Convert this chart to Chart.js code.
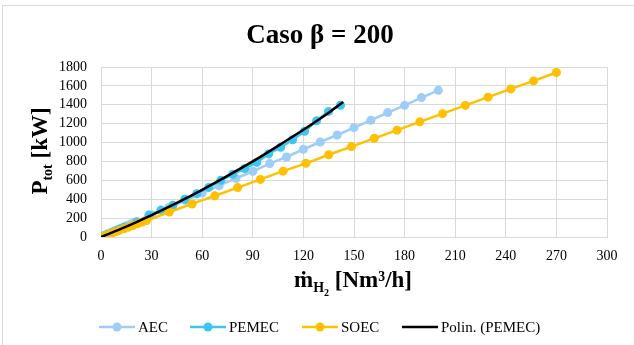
<!DOCTYPE html>
<html>
<head>
<meta charset="utf-8">
<script src="https://cdn.jsdelivr.net/npm/chart.js@4"></script>
<style>
  html, body { margin: 0; padding: 0; background: #fff; }
  #wrap { width: 634px; height: 345px; position: relative; }
</style>
</head>
<body>
<div id="wrap"><canvas id="chart" width="634" height="345"></canvas></div>
<script>
// series
const aecX = [0, 2, 4, 6, 8, 10, 12, 14, 16, 18, 20, 30, 40, 50, 60, 70, 80, 90, 100, 110, 120, 130, 140, 150, 160, 170, 180, 190, 200];
const aecY = [0, 16, 31, 47, 62, 78, 93, 109, 124, 140, 155, 233, 310, 388, 465, 543, 620, 696, 777, 847, 929, 1006, 1080, 1158, 1236, 1317, 1394, 1476, 1553];

const pemX = [0, 1.42, 2.84, 4.26, 5.68, 7.1, 8.52, 9.94, 11.36, 12.78, 14.2, 21.3, 28.4, 35.5, 42.6, 49.7, 56.8, 63.9, 71, 78.1, 85.2, 92.3, 99.4, 106.5, 113.6, 120.7, 127.8, 134.9, 142];
const pemY = [0, 10, 21, 31, 41, 52, 63, 73, 84, 95, 106, 162, 232, 285, 335, 400, 459, 525, 600, 665, 725, 790, 880, 950, 1030, 1120, 1230, 1330, 1395];

const soeX = [0, 2.7, 5.4, 8.1, 10.8, 13.5, 16.2, 18.9, 21.6, 24.3, 27, 40.5, 54, 67.5, 81, 94.5, 108, 121.5, 135, 148.5, 162, 175.5, 189, 202.5, 216, 229.5, 243, 256.5, 270];
const soeY = [0, 17, 35, 52, 70, 87, 104, 122, 139, 157, 174, 265, 350, 437, 523, 610, 697, 780, 871, 957, 1045, 1131, 1219, 1306, 1393, 1481, 1568, 1653, 1742];

// polynomial trend of PEMEC
const trendX = [0, 15, 30, 45, 60, 75, 90, 105, 120, 135, 143.6];
const trendY = [0, 110, 232, 362, 500, 647, 800, 965, 1135, 1315, 1430];

const xTicks = [0, 30, 60, 90, 120, 150, 180, 210, 240, 270, 300];
const yTicks = [0, 200, 400, 600, 800, 1000, 1200, 1400, 1600, 1800];

const title = "Caso \u03b2 = 200";
const serif = "'Liberation Serif', 'DejaVu Serif', serif";

function pts(xs, ys) {
  return xs.map((x, i) => ({ x: x, y: ys[i] }));
}

// titles, subscripts and the legend drawn by hand
const extras = {
  id: "extras",
  beforeDraw(chart) {
    const c = chart.ctx;
    c.save();
    c.strokeStyle = "#d9d9d9";
    c.lineWidth = 1;
    c.strokeRect(2.5, 5.5, 700, 400);
    c.restore();
  },
  afterDraw(chart) {
    const c = chart.ctx;
    c.save();
    c.fillStyle = "#000";
    c.textBaseline = "alphabetic";

    // main title
    c.font = "bold 27px " + serif;
    c.textAlign = "center";
    c.fillText(title, 320, 43);
    c.textAlign = "left";

    // y title: P_tot [kW]
    const big = "bold 23px " + serif, sub = "bold 14px " + serif;
    c.font = big; const wP = c.measureText("P").width;
    c.font = sub; const wT = c.measureText("tot").width;
    c.font = big; const wK = c.measureText(" [kW]").width;
    const wy = wP + wT + wK;
    c.translate(47, 151);
    c.rotate(-Math.PI / 2);
    let x = -wy / 2;
    c.font = big; c.fillText("P", x, 0); x += wP;
    c.font = sub; c.fillText("tot", x, 5); x += wT;
    c.font = big; c.fillText(" [kW]", x, 0);
    c.setTransform(1, 0, 0, 1, 0, 0);

    // x title: m-dot H2 [Nm3/h]
    const small = "bold 10px " + serif;
    c.font = big; const wM = c.measureText("\u1e41").width;
    c.font = sub; const wH = c.measureText("H").width;
    c.font = small; const w2 = c.measureText("2").width;
    c.font = big; const wU = c.measureText(" [Nm\u00b3/h]").width;
    const wx = wM + wH + w2 + wU;
    x = 353 - wx / 2;
    const by = 287;
    c.font = big; c.fillText("\u1e41", x, by); x += wM;
    c.font = sub; c.fillText("H", x, by + 5); x += wH;
    c.font = small; c.fillText("2", x, by + 9); x += w2;
    c.font = big; c.fillText(" [Nm\u00b3/h]", x, by);

    // legend
    const ly = 327;
    const starts = [99, 190, 302, 402];
    c.font = "15px " + serif;
    c.textBaseline = "middle";
    chart.data.datasets.forEach((ds, i) => {
      const sx = starts[i];
      c.strokeStyle = ds.borderColor;
      c.lineWidth = ds.borderWidth;
      c.beginPath();
      c.moveTo(sx, ly);
      c.lineTo(sx + 36, ly);
      c.stroke();
      if (ds.pointRadius > 0) {
        c.fillStyle = ds.backgroundColor;
        c.beginPath();
        c.arc(sx + 18, ly, 4.5, 0, Math.PI * 2);
        c.fill();
      }
      c.fillStyle = "#000";
      c.fillText(ds.label, sx + 39, ly + 1);
    });
    c.restore();
  }
};

const ctx = document.getElementById("chart").getContext("2d");
const chart = new Chart(ctx, {
  type: "scatter",
  data: {
    datasets: [
      {
        label: "AEC",
        data: pts(aecX, aecY),
        showLine: true,
        borderColor: "#9ecdf8",
        backgroundColor: "#9ecdf8",
        borderWidth: 2.5,
        pointRadius: 4.5,
        pointBorderWidth: 0,
        order: 3
      },
      {
        label: "PEMEC",
        data: pts(pemX, pemY),
        showLine: true,
        borderColor: "#3cc6f2",
        backgroundColor: "#3cc6f2",
        borderWidth: 2.5,
        pointRadius: 4.5,
        pointBorderWidth: 0,
        order: 2
      },
      {
        label: "SOEC",
        data: pts(soeX, soeY),
        showLine: true,
        borderColor: "#ffc000",
        backgroundColor: "#ffc000",
        borderWidth: 2.5,
        pointRadius: 4.5,
        pointBorderWidth: 0,
        order: 1
      },
      {
        label: "Polin. (PEMEC)",
        data: pts(trendX, trendY),
        showLine: true,
        borderColor: "#000000",
        backgroundColor: "#000000",
        borderWidth: 2.5,
        pointRadius: 0,
        tension: 0.4,
        cubicInterpolationMode: "monotone",
        order: 0
      }
    ]
  },
  options: {
    responsive: false,
    animation: false,
    layout: { padding: { left: 0, right: 27, top: 67, bottom: 0 } },
    plugins: {
      legend: { display: false },
      title: { display: false },
      tooltip: { enabled: false }
    },
    scales: {
      x: {
        type: "linear",
        min: 0,
        max: 300,
        afterBuildTicks: s => { s.ticks = xTicks.map(v => ({ value: v })); },
        afterFit: s => { s.height = 108; },
        grid: { color: "#d9d9d9", drawTicks: false },
        border: { color: "#d9d9d9" },
        ticks: {
          color: "#000", padding: 11, autoSkip: false, maxRotation: 0,
          callback: v => String(v),
          font: { family: serif, size: 14 }
        }
      },
      y: {
        min: 0,
        max: 1800,
        afterBuildTicks: s => { s.ticks = yTicks.map(v => ({ value: v })); },
        afterFit: s => { s.width = 101; },
        grid: { color: "#d9d9d9", drawTicks: false },
        border: { color: "#d9d9d9" },
        ticks: {
          color: "#000", padding: 14, autoSkip: false,
          callback: v => String(v),
          font: { family: serif, size: 14 }
        }
      }
    }
  },
  plugins: [extras]
});
</script>
</body>
</html>
